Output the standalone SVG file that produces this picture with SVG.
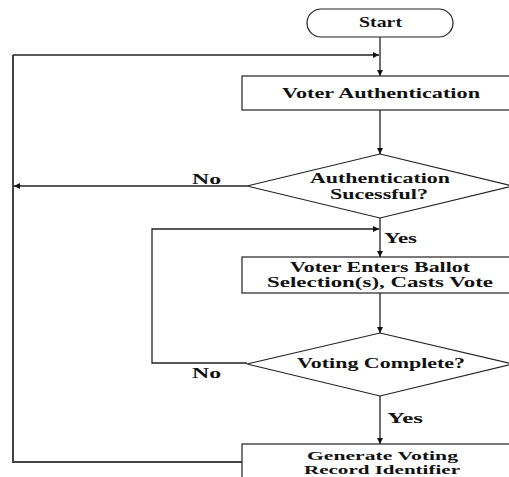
<svg xmlns="http://www.w3.org/2000/svg" width="509" height="477" viewBox="0 0 509 477">
<style>
.shape{fill:#fff;stroke:#222;stroke-width:1.2}
.conn{fill:none;stroke:#222;stroke-width:1.3}
.thick{fill:none;stroke:#444;stroke-width:2}
text{font-family:"Liberation Serif","Times New Roman",serif;font-weight:bold;font-size:15px;fill:#111}
.small{font-size:12.5px}
</style>
<defs>
<marker id="ah" viewBox="0 0 10 10" refX="10" refY="5" markerWidth="8" markerHeight="6" markerUnits="userSpaceOnUse" orient="auto">
<path d="M0,0 L10,5 L0,10 z" fill="#111"/>
</marker>
</defs>
<rect width="509" height="477" fill="#fff"/>
<g id="connectors">
<line class="conn" x1="380" y1="37" x2="380" y2="76" marker-end="url(#ah)"/>
<polyline class="thick" points="242,462 13,462 13,55"/>
<line class="conn" x1="13" y1="55" x2="379" y2="55" marker-end="url(#ah)"/>
<line class="conn" x1="380" y1="110" x2="380" y2="154" marker-end="url(#ah)"/>
<line class="conn" x1="247" y1="186" x2="14" y2="186" marker-end="url(#ah)"/>
<line class="conn" x1="380" y1="218" x2="380" y2="257" marker-end="url(#ah)"/>
<polyline class="conn" points="247,363 152,363 152,229 379,229" marker-end="url(#ah)"/>
<line class="conn" x1="380" y1="293" x2="380" y2="333" marker-end="url(#ah)"/>
<line class="conn" x1="380" y1="396" x2="380" y2="444" marker-end="url(#ah)"/>
<text x="192" y="184" textLength="29" lengthAdjust="spacingAndGlyphs">No</text>
<text x="384" y="243" textLength="33" lengthAdjust="spacingAndGlyphs">Yes</text>
<text x="192" y="378" textLength="29" lengthAdjust="spacingAndGlyphs">No</text>
<text x="387" y="423" textLength="36" lengthAdjust="spacingAndGlyphs">Yes</text>
</g>
<g id="start">
<rect class="shape" x="307" y="9" width="146" height="28" rx="14" ry="14"/>
<text x="359" y="27" textLength="43" lengthAdjust="spacingAndGlyphs">Start</text>
</g>
<g id="voter-authentication">
<rect class="shape" x="242" y="76" width="276" height="34"/>
<text x="282" y="98" textLength="198" lengthAdjust="spacingAndGlyphs">Voter Authentication</text>
</g>
<g id="auth-successful">
<polygon class="shape" points="380,154 513,186 380,218 247,186"/>
<text x="310" y="183" textLength="140" lengthAdjust="spacingAndGlyphs">Authentication</text>
<text x="330" y="199" textLength="98" lengthAdjust="spacingAndGlyphs">Sucessful?</text>
</g>
<g id="cast-vote">
<rect class="shape" x="242" y="257" width="276" height="36"/>
<text x="290" y="272" textLength="180" lengthAdjust="spacingAndGlyphs">Voter Enters Ballot</text>
<text x="267" y="287" textLength="226" lengthAdjust="spacingAndGlyphs">Selection(s), Casts Vote</text>
</g>
<g id="voting-complete">
<polygon class="shape" points="380,333 513,364 380,396 247,364"/>
<text x="297" y="368" textLength="168" lengthAdjust="spacingAndGlyphs">Voting Complete?</text>
</g>
<g id="generate-record">
<rect class="shape" x="242" y="444" width="276" height="40"/>
<text class="small" x="307" y="460" textLength="151" lengthAdjust="spacingAndGlyphs">Generate Voting</text>
<text class="small" x="304" y="474" textLength="156" lengthAdjust="spacingAndGlyphs">Record Identifier</text>
</g>
</svg>
